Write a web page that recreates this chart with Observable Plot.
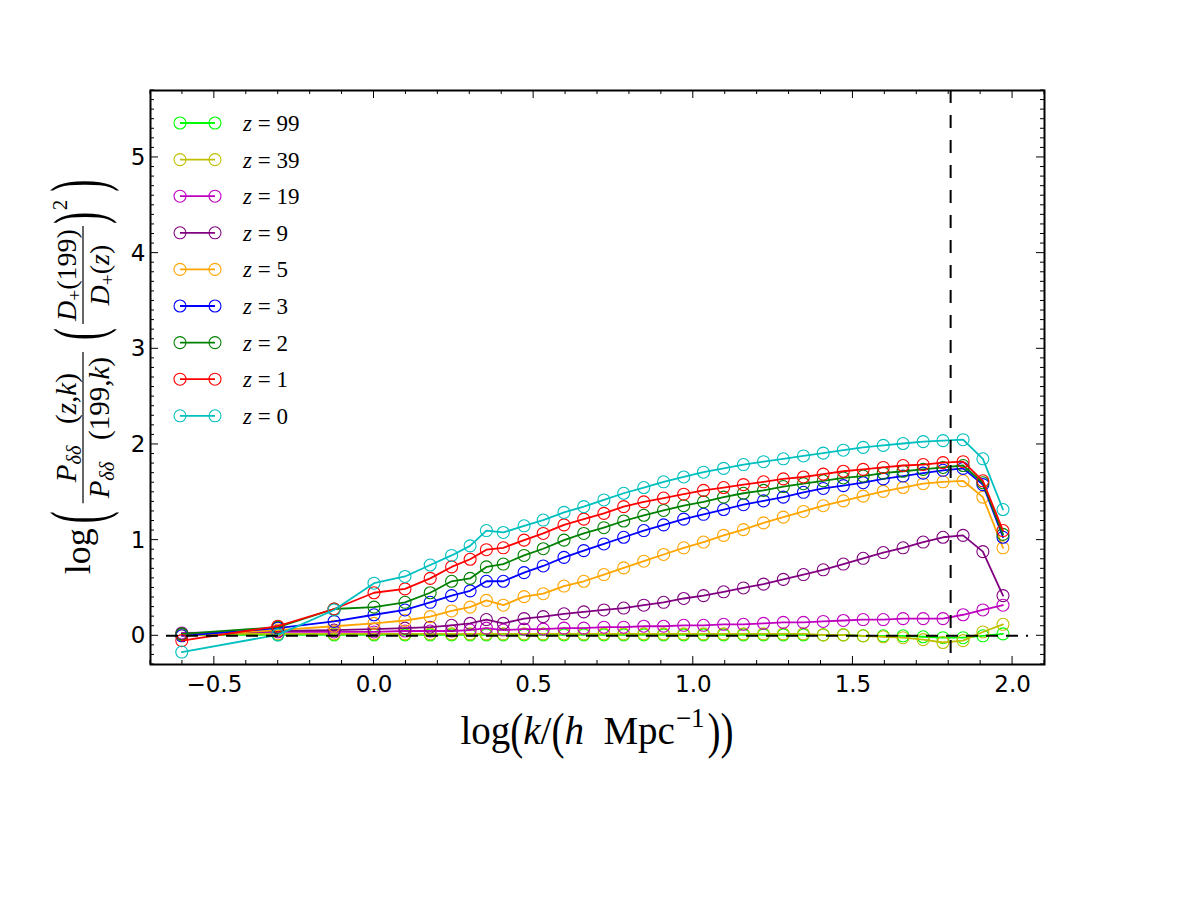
<!DOCTYPE html>
<html>
<head>
<meta charset="utf-8">
<script src="https://cdn.jsdelivr.net/npm/d3@7"></script>
<script src="https://cdn.jsdelivr.net/npm/@observablehq/plot@0.6"></script>
<style>
  html, body { margin: 0; padding: 0; background: #fff; }
  #chart svg { display: block; }
</style>
</head>
<body>
<div id="chart"></div>
<script>
// log10 of wavenumber bins, k in h/Mpc
const logK = [-0.602, -0.301, -0.125, 0.0, 0.097, 0.176, 0.243, 0.301, 0.352,
  0.405, 0.47, 0.53, 0.595, 0.657, 0.72, 0.782, 0.845, 0.907, 0.97,
  1.032, 1.095, 1.157, 1.22, 1.282, 1.345, 1.407, 1.47, 1.532, 1.595,
  1.657, 1.72, 1.782, 1.845, 1.907, 1.97];

const redshifts = [99, 39, 19, 9, 5, 3, 2, 1, 0];
const seriesColors = ["#00ff00", "#bfbf00", "#bf00bf", "#800080", "#ffa500",
  "#0000ff", "#008000", "#ff0000", "#00bfbf"];

// growth-corrected power ratio log[P(z,k)/P(199,k) (D+(199)/D+(z))^2]
const ratioZ99 = [0.01, 0.01, 0.01, 0.01, 0.01, 0.01, 0.01, 0.01, 0.01,
  0.01, 0.01, 0.01, 0.01, 0.01, 0.01, 0.01, 0.01, 0.01, 0.01,
  0.01, 0.01, 0.01, 0.01, 0.01, 0.01, 0.01, 0.01, 0.0, 0.0,
  0.0, -0.01, -0.02, -0.02, 0.0, 0.02];
const ratioZ39 = [0.02, 0.02, 0.02, 0.02, 0.02, 0.02, 0.02, 0.02, 0.02,
  0.02, 0.02, 0.02, 0.02, 0.02, 0.02, 0.02, 0.02, 0.02, 0.02,
  0.02, 0.02, 0.02, 0.02, 0.02, 0.02, 0.01, 0.01, 0.0, -0.01,
  -0.02, -0.04, -0.07, -0.05, 0.04, 0.12];
const ratioZ19 = [0.03, 0.04, 0.04, 0.04, 0.05, 0.05, 0.05, 0.06, 0.08,
  0.06, 0.07, 0.07, 0.08, 0.08, 0.09, 0.09, 0.1, 0.1, 0.11,
  0.11, 0.12, 0.12, 0.13, 0.14, 0.14, 0.15, 0.16, 0.17, 0.17,
  0.18, 0.18, 0.18, 0.22, 0.27, 0.32];
const ratioZ9 = [0.02, 0.05, 0.06, 0.07, 0.08, 0.09, 0.11, 0.13, 0.17,
  0.13, 0.18, 0.2, 0.23, 0.25, 0.27, 0.29, 0.32, 0.35, 0.39,
  0.42, 0.46, 0.5, 0.54, 0.59, 0.64, 0.69, 0.75, 0.81, 0.87,
  0.92, 0.98, 1.03, 1.05, 0.88, 0.42];
const ratioZ5 = [0.0, 0.06, 0.1, 0.13, 0.16, 0.2, 0.26, 0.3, 0.37,
  0.32, 0.41, 0.44, 0.52, 0.57, 0.64, 0.71, 0.78, 0.85, 0.92,
  0.98, 1.05, 1.11, 1.18, 1.24, 1.3, 1.36, 1.41, 1.46, 1.51,
  1.55, 1.59, 1.61, 1.62, 1.45, 0.92];
const ratioZ3 = [0.0, 0.08, 0.15, 0.22, 0.27, 0.35, 0.42, 0.47, 0.57,
  0.57, 0.66, 0.73, 0.82, 0.89, 0.96, 1.03, 1.1, 1.16, 1.22,
  1.27, 1.32, 1.37, 1.41, 1.45, 1.5, 1.54, 1.57, 1.6, 1.64,
  1.67, 1.7, 1.73, 1.75, 1.58, 1.03];
const ratioZ2 = [0.02, 0.09, 0.28, 0.3, 0.35, 0.45, 0.57, 0.6, 0.72,
  0.75, 0.84, 0.91, 1.0, 1.07, 1.13, 1.2, 1.26, 1.31, 1.36,
  1.4, 1.45, 1.49, 1.52, 1.56, 1.59, 1.62, 1.65, 1.67, 1.7,
  1.72, 1.74, 1.76, 1.78, 1.6, 1.06];
const ratioZ1 = [-0.05, 0.1, 0.28, 0.45, 0.49, 0.6, 0.72, 0.8, 0.9,
  0.92, 1.0, 1.07, 1.16, 1.22, 1.28, 1.35, 1.4, 1.44, 1.48,
  1.52, 1.55, 1.58, 1.61, 1.64, 1.66, 1.69, 1.72, 1.74, 1.76,
  1.78, 1.79, 1.81, 1.82, 1.62, 1.1];
const ratioZ0 = [-0.17, 0.01, 0.27, 0.55, 0.62, 0.74, 0.84, 0.94, 1.1,
  1.08, 1.15, 1.21, 1.29, 1.35, 1.42, 1.49, 1.55, 1.61, 1.66,
  1.71, 1.75, 1.79, 1.82, 1.85, 1.88, 1.91, 1.94, 1.97, 1.99,
  2.01, 2.03, 2.04, 2.05, 1.85, 1.32];

const seriesValues = [ratioZ99, ratioZ39, ratioZ19, ratioZ9, ratioZ5,
  ratioZ3, ratioZ2, ratioZ1, ratioZ0];

const xTicks = [-0.5, 0.0, 0.5, 1.0, 1.5, 2.0];
const yTicks = [0, 1, 2, 3, 4, 5];
const nyquistLogK = 1.806;           // log10 of the particle Nyquist wavenumber
const zeroGuide = [{y: 0, x1: -0.65, x2: 2.05}];

const SANS = "'DejaVu Sans', sans-serif";
const SERIF = "'Liberation Serif', 'DejaVu Serif', serif";

const rows = seriesValues.map((vals, i) =>
  logK.map((k, j) => ({k, r: vals[j], z: redshifts[i]})));

const seriesMarks = rows.flatMap((data, i) => [
  Plot.line(data, {x: "k", y: "r", stroke: seriesColors[i], strokeWidth: 1.8}),
  Plot.dot(data, {x: "k", y: "r", r: 6, stroke: seriesColors[i], fill: "none", strokeWidth: 1.1})
]);

const fmtX = d => (d < 0 ? "\u2212" : "") + Math.abs(d).toFixed(1);

const chart = Plot.plot({
  width: 1200,
  height: 900,
  marginLeft: 150,
  marginRight: 156,
  marginTop: 90,
  marginBottom: 236,
  style: {background: "white", color: "black", fontFamily: SANS},
  x: {domain: [-0.7, 2.1]},
  y: {domain: [-0.3, 5.7]},
  marks: [
    ...seriesMarks,
    Plot.ruleY(zeroGuide, {y: "y", x1: "x1", x2: "x2", stroke: "black", strokeWidth: 2, strokeDasharray: "12,8"}),
    Plot.ruleX([nyquistLogK], {stroke: "black", strokeWidth: 2, strokeDasharray: "13,12"}),
    Plot.axisX(xTicks, {tickSize: 0, tickPadding: 11, fontSize: 23, tickFormat: fmtX, label: null}),
    Plot.axisY(yTicks, {tickSize: 0, tickPadding: 5, fontSize: 23, tickFormat: d => String(d), label: null}),
    Plot.frame({stroke: "black", strokeWidth: 2})
  ]
});

document.getElementById("chart").appendChild(chart);

const svg = d3.select(chart);
const sx = chart.scale("x"), sy = chart.scale("y");
const [frameL, frameR] = sx.range;
const [frameB, frameT] = sy.range;

// inward-pointing major and minor ticks on all four sides
const ticksG = svg.append("g").attr("stroke", "black").attr("stroke-width", 1);
const minorX = d3.range(-7, 22).map(i => i / 10);
const minorY = d3.range(-3, 58).map(i => i / 10);
const isMajor = (v, list) => list.some(t => Math.abs(t - v) < 1e-9);
for (const v of minorX) {
  const px = sx.apply(v), len = isMajor(v, xTicks) ? 8 : 4;
  ticksG.append("line").attr("x1", px).attr("x2", px).attr("y1", frameB).attr("y2", frameB - len);
  ticksG.append("line").attr("x1", px).attr("x2", px).attr("y1", frameT).attr("y2", frameT + len);
}
for (const v of minorY) {
  const py = sy.apply(v), len = isMajor(v, yTicks) ? 8 : 4;
  ticksG.append("line").attr("y1", py).attr("y2", py).attr("x1", frameL).attr("x2", frameL + len);
  ticksG.append("line").attr("y1", py).attr("y2", py).attr("x1", frameR).attr("x2", frameR - len);
}

// math-style text runs built from tspans
function mathText(parent, x, y, size, parts) {
  const t = parent.append("text").attr("x", x).attr("y", y)
    .attr("font-family", SERIF).attr("font-size", size).attr("fill", "black")
    .attr("text-anchor", "start").style("white-space", "pre");
  let shift = 0;
  for (const p of parts) {
    const target = p.dy || 0;
    const s = t.append("tspan").text(p.t);
    if (target !== shift) { s.attr("dy", target - shift); shift = target; }
    if (p.i) s.attr("font-style", "italic");
    if (p.s) s.attr("font-size", size * p.s);
  }
  return {node: t, width: t.node().getComputedTextLength()};
}

// tall delimiter: a normal glyph stretched vertically about its baseline
function paren(g, x, ch, size, stretch, baseline) {
  const t = g.append("text").attr("font-family", SERIF).attr("font-size", size)
    .attr("fill", "black").attr("text-anchor", "start")
    .attr("transform", `translate(${x},${baseline}) scale(1,${stretch})`).text(ch);
  return t.node().getComputedTextLength();
}

function fraction(g, x, size, num, den, numY, denY, pad) {
  const n = mathText(g, 0, numY, size, num);
  const d = mathText(g, 0, denY, size, den);
  const w = Math.max(n.width, d.width) + 2 * pad;
  n.node.attr("x", x + (w - n.width) / 2);
  d.node.attr("x", x + (w - d.width) / 2);
  g.append("line").attr("x1", x).attr("x2", x + w).attr("y1", 0).attr("y2", 0)
    .attr("stroke", "black").attr("stroke-width", 1.2);
  return w;
}

// y-axis label
const yl = svg.append("g");
let cx = 0;
cx += mathText(yl, cx, 7, 36, [{t: "log"}]).width + 5;
cx += paren(yl, cx, "(", 36, 2.1, 20) + 8;
cx += fraction(yl, cx, 29,
  [{t: "P", i: 1}, {t: "\u03b4\u03b4", i: 1, s: 0.7, dy: 5}, {t: "   (", dy: 0}, {t: "z", i: 1}, {t: ","}, {t: "k", i: 1}, {t: ")"}],
  [{t: "P", i: 1}, {t: "\u03b4\u03b4", i: 1, s: 0.7, dy: 5}, {t: "   (", dy: 0}, {t: "199,"}, {t: "k", i: 1}, {t: ")"}],
  -7, 26, 5);
cx += 12;
cx += paren(yl, cx, "(", 36, 1.95, 19) + 4;
cx += fraction(yl, cx, 28,
  [{t: "D", i: 1}, {t: "+", s: 0.7, dy: 5}, {t: "(199)", dy: 0}],
  [{t: "D", i: 1}, {t: "+", s: 0.7, dy: 5}, {t: "(", dy: 0}, {t: "z", i: 1}, {t: ")"}],
  -7, 26, 3);
cx += 2;
cx += paren(yl, cx, ")", 36, 1.95, 19) + 2;
cx += mathText(yl, cx, -16, 21, [{t: "2"}]).width + 8;
cx += paren(yl, cx, ")", 36, 2.1, 20);
yl.attr("transform", `translate(83, ${377 + cx / 2}) rotate(-90)`);

// x-axis label
const xl = svg.append("g");
let lx = 0;
const XS = 39;
lx += mathText(xl, lx, 0, XS, [{t: "log"}]).width;
lx += paren(xl, lx, "(", XS, 1.3, 4);
lx += mathText(xl, lx, 0, XS, [{t: "k", i: 1}, {t: "/"}]).width;
lx += paren(xl, lx, "(", XS, 1.3, 4);
lx += mathText(xl, lx, 0, XS, [{t: "h", i: 1}, {t: "  Mpc"}]).width + 1;
lx += mathText(xl, lx, -17, 27, [{t: "\u22121"}]).width + 3;
lx += paren(xl, lx, ")", XS, 1.3, 4);
lx += paren(xl, lx, ")", XS, 1.3, 4);
xl.attr("transform", `translate(${(frameL + frameR) / 2 - lx / 2}, 744)`);

// legend
const lg = svg.append("g");
redshifts.forEach((z, i) => {
  const y = 123 + i * 36.6;
  lg.append("line").attr("x1", 180).attr("x2", 215).attr("y1", y).attr("y2", y)
    .attr("stroke", seriesColors[i]).attr("stroke-width", 1.8);
  for (const cxp of [180, 215]) {
    lg.append("circle").attr("cx", cxp).attr("cy", y).attr("r", 6)
      .attr("fill", "none").attr("stroke", seriesColors[i]).attr("stroke-width", 1.1);
  }
  mathText(lg, 243, y + 8, 23, [{t: "z", i: 1}, {t: " = "}, {t: String(z)}]);
});
</script>
</body>
</html>
